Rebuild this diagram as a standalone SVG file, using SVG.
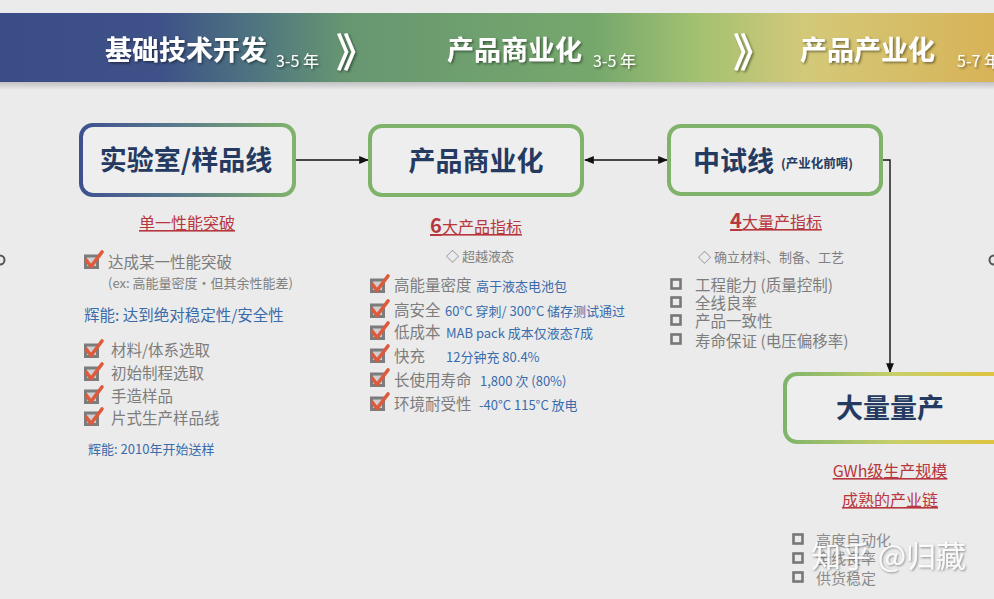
<svg xmlns="http://www.w3.org/2000/svg" width="994" height="599" viewBox="0 0 994 599">
<defs>
<linearGradient id="band" x1="0" y1="0" x2="994" y2="0" gradientUnits="userSpaceOnUse">
<stop offset="0" stop-color="#3b4d87"/>
<stop offset="0.16" stop-color="#3e5188"/>
<stop offset="0.26" stop-color="#4f767f"/>
<stop offset="0.35" stop-color="#679771"/>
<stop offset="0.6" stop-color="#76a86c"/>
<stop offset="0.7" stop-color="#a2c171"/>
<stop offset="0.81" stop-color="#d3c979"/>
<stop offset="1" stop-color="#d8b357"/>
</linearGradient>
<linearGradient id="g1" x1="0" y1="0" x2="1" y2="0">
<stop offset="0" stop-color="#3d5190"/>
<stop offset="0.45" stop-color="#5a7a8c"/>
<stop offset="1" stop-color="#80b36a"/>
</linearGradient>
<linearGradient id="g4" x1="0" y1="0" x2="1" y2="0">
<stop offset="0" stop-color="#7fb46b"/>
<stop offset="0.5" stop-color="#c8cf6a"/>
<stop offset="1" stop-color="#e0c23a"/>
</linearGradient>
<linearGradient id="shade" x1="0" y1="0" x2="0" y2="1">
<stop offset="0" stop-color="#000" stop-opacity="0.18"/>
<stop offset="1" stop-color="#000" stop-opacity="0"/>
</linearGradient>
<filter id="ts" x="-10%" y="-30%" width="120%" height="160%">
<feDropShadow dx="1.5" dy="1.5" stdDeviation="1" flood-color="#000" flood-opacity="0.45"/>
</filter>
<filter id="wm" x="-10%" y="-30%" width="120%" height="160%">
<feDropShadow dx="1" dy="1" stdDeviation="0.8" flood-color="#555" flood-opacity="0.7"/>
</filter>
<marker id="arr" viewBox="0 0 10 10" refX="9" refY="5" markerWidth="7" markerHeight="7" orient="auto-start-reverse">
<path d="M0,1 L10,5 L0,9 z" fill="#111"/>
</marker>
<symbol id="chk" viewBox="0 0 20 18" overflow="visible">
<rect x="1.5" y="5" width="12" height="11.5" fill="#cfcfcf" stroke="#7c7c7c" stroke-width="3"/>
<path d="M2.5,9.5 L7,15.5 L18,1" fill="none" stroke="#de5a3c" stroke-width="3.6" stroke-linecap="round" stroke-linejoin="round"/>
</symbol>
<symbol id="box" viewBox="0 0 12 12" overflow="visible">
<rect x="1.5" y="1.5" width="9" height="9" fill="none" stroke="#777" stroke-width="2.6"/>
</symbol>
</defs>
<style>
text{font-family:"Noto Sans CJK SC","Noto Sans",sans-serif}
.band{fill:#fff;font-weight:bold;font-size:27px}
.yr{fill:#fff;font-size:16px}
.chev{fill:#fff;font-size:40px;font-weight:bold}
.node{stroke-width:4;fill:#eeeeee}
.title{fill:#253a60;font-weight:bold;font-size:27px}
.head{fill:#b8363d;font-size:16px;text-decoration:underline}
.it{fill:#7d7d7d;font-size:15.5px}
.sm{fill:#808080;font-size:13px}
.bl{fill:#3a6cab;font-size:13px}
.bl2{fill:#3a6cab;font-size:15.5px}
.conn{stroke:#111;stroke-width:1.4;fill:none}
</style>
<rect width="994" height="599" fill="#ebebeb"/>
<circle cx="0" cy="260" r="4.5" fill="none" stroke="#555" stroke-width="2"/>
<circle cx="994" cy="260" r="4.5" fill="none" stroke="#555" stroke-width="2"/>

<g id="banner">
<rect x="0" y="82" width="994" height="8" fill="url(#shade)"/>
<rect x="0" y="13" width="994" height="69" fill="url(#band)"/>
<g filter="url(#ts)">
<text class="band" x="105" y="60">基础技术开发</text>
<text class="yr" x="276" y="67">3-5 年</text>
<text class="chev" x="336" y="67">》</text>
<text class="band" x="447" y="60">产品商业化</text>
<text class="yr" x="593" y="67">3-5 年</text>
<text class="chev" x="733" y="67">》</text>
<text class="band" x="800" y="60">产品产业化</text>
<text class="yr" x="957" y="67">5-7 年</text>
</g>
</g>

<g id="connectors">
<line class="conn" x1="296" y1="160" x2="368" y2="160" marker-end="url(#arr)"/>
<line class="conn" x1="585" y1="160" x2="667" y2="160" marker-start="url(#arr)" marker-end="url(#arr)"/>
<polyline class="conn" points="883,160 890,160 890,372" marker-end="url(#arr)"/>
</g>

<g id="lab">
<rect class="node" x="81" y="125" width="213" height="70" rx="12" stroke="url(#g1)"/>
<text class="title" x="186" y="170" text-anchor="middle">实验室/样品线</text>
<text class="head" x="187" y="229" text-anchor="middle">单一性能突破</text>
<use href="#chk" x="84" y="251" width="20" height="18"/>
<text class="it" x="108" y="268">达成某一性能突破</text>
<text class="sm" x="108" y="288">(ex: 高能量密度・但其余性能差)</text>
<text class="bl2" x="84" y="321">辉能: 达到绝对稳定性/安全性</text>
<use href="#chk" x="84" y="340" width="20" height="18"/>
<text class="it" x="111" y="356">材料/体系选取</text>
<use href="#chk" x="84" y="363" width="20" height="18"/>
<text class="it" x="111" y="379">初始制程选取</text>
<use href="#chk" x="84" y="386" width="20" height="18"/>
<text class="it" x="111" y="402">手造样品</text>
<use href="#chk" x="84" y="408" width="20" height="18"/>
<text class="it" x="111" y="424">片式生产样品线</text>
<text class="bl" x="88" y="454">辉能: 2010年开始送样</text>
</g>

<g id="commercial">
<rect class="node" x="370" y="126" width="212" height="69" rx="12" stroke="#80b36a"/>
<text class="title" x="476" y="171" text-anchor="middle">产品商业化</text>
<text class="head" x="476" y="233" text-anchor="middle"><tspan font-weight="bold" font-size="20">6</tspan>大产品指标</text>
<text class="sm" x="446" y="261">◇ 超越液态</text>
<use href="#chk" x="370" y="275" width="20" height="18"/>
<text class="it" x="394" y="291">高能量密度</text>
<text class="bl" x="476" y="291">高于液态电池包</text>
<use href="#chk" x="370" y="300" width="20" height="18"/>
<text class="it" x="394" y="316">高安全</text>
<text class="bl" x="445" y="316">60°C 穿刺/ 300°C 储存测试通过</text>
<use href="#chk" x="370" y="322" width="20" height="18"/>
<text class="it" x="394" y="338">低成本</text>
<text class="bl" x="446" y="338">MAB pack 成本仅液态7成</text>
<use href="#chk" x="370" y="345" width="20" height="18"/>
<text class="it" x="394" y="362">快充</text>
<text class="bl" x="446" y="362">12分钟充 80.4%</text>
<use href="#chk" x="370" y="369" width="20" height="18"/>
<text class="it" x="394" y="386">长使用寿命</text>
<text class="bl" x="480" y="386">1,800 次 (80%)</text>
<use href="#chk" x="370" y="393" width="20" height="18"/>
<text class="it" x="394" y="410">环境耐受性</text>
<text class="bl" x="479" y="410">-40°C 115°C 放电</text>
</g>

<g id="pilot">
<rect class="node" x="669" y="126" width="212" height="68" rx="12" stroke="#80b36a"/>
<text class="title" x="693" y="171">中试线</text>
<text x="781" y="168" fill="#253a60" font-weight="bold" font-size="12.5">(产业化前哨)</text>
<text class="head" x="776" y="228" text-anchor="middle"><tspan font-weight="bold" font-size="20">4</tspan>大量产指标</text>
<text class="sm" x="698" y="262">◇ 确立材料、制备、工艺</text>
<use href="#box" x="670" y="278" width="12" height="12"/>
<text class="it" x="695" y="291">工程能力 (质量控制)</text>
<use href="#box" x="670" y="296" width="12" height="12"/>
<text class="it" x="695" y="309">全线良率</text>
<use href="#box" x="670" y="314" width="12" height="12"/>
<text class="it" x="695" y="327">产品一致性</text>
<use href="#box" x="670" y="333" width="12" height="12"/>
<text class="it" x="695" y="347">寿命保证 (电压偏移率)</text>
</g>

<g id="mass">
<rect class="node" x="785" y="374" width="220" height="68" rx="12" stroke="url(#g4)"/>
<text class="title" x="890" y="418" text-anchor="middle">大量量产</text>
<text class="head" x="890" y="477" text-anchor="middle">GWh级生产规模</text>
<text class="head" x="890" y="506" text-anchor="middle">成熟的产业链</text>
<use href="#box" x="792" y="533" width="12" height="12"/>
<text x="816" y="546" fill="#8a8a8a" font-size="15">高度自动化</text>
<use href="#box" x="792" y="552" width="12" height="12"/>
<text x="816" y="564" fill="#8a8a8a" font-size="15">全线良率</text>
<use href="#box" x="792" y="571" width="12" height="12"/>
<text x="816" y="584" fill="#8a8a8a" font-size="15">供货稳定</text>
</g>

<text x="811" y="567" fill="#fff" fill-opacity="0.9" font-size="30" filter="url(#wm)">知乎 @归藏</text>
</svg>
